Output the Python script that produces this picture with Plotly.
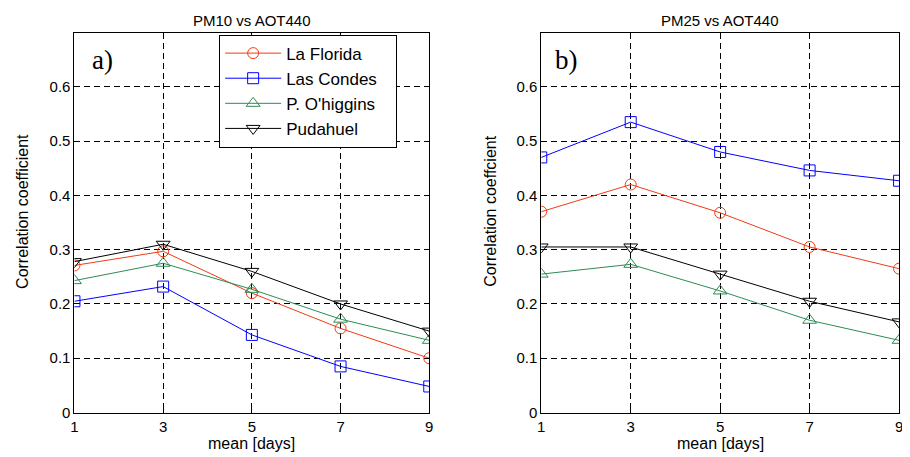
import plotly.graph_objects as go

days = [1, 3, 5, 7, 9]
stations = ["La Florida", "Las Condes", "P. O'higgins", "Pudahuel"]

pm10_la_florida = [0.271, 0.297, 0.220, 0.155, 0.100]
pm10_las_condes = [0.205, 0.232, 0.143, 0.085, 0.048]
pm10_ohiggins = [0.243, 0.275, 0.227, 0.172, 0.133]
pm10_pudahuel = [0.278, 0.310, 0.260, 0.200, 0.150]

pm25_la_florida = [0.370, 0.420, 0.368, 0.305, 0.265]
pm25_las_condes = [0.470, 0.535, 0.480, 0.446, 0.427]
pm25_ohiggins = [0.255, 0.273, 0.224, 0.170, 0.133]
pm25_pudahuel = [0.305, 0.305, 0.255, 0.205, 0.167]

y_ticks = [0, 0.1, 0.2, 0.3, 0.4, 0.5, 0.6]
y_tick_labels = ["0", "0.1", "0.2", "0.3", "0.4", "0.5", "0.6"]

colors = ["#f03c14", "#0000ff", "#2e8b57", "#000000"]
symbols = ["circle-open", "square-open", "triangle-up-open", "triangle-down-open"]
sizes = [11, 11, 12, 12]

fig = go.Figure()

pm10 = [pm10_la_florida, pm10_las_condes, pm10_ohiggins, pm10_pudahuel]
pm25 = [pm25_la_florida, pm25_las_condes, pm25_ohiggins, pm25_pudahuel]

pad = "\u00a0" * 3  # widens the legend box to match the reference

for i, name in enumerate(stations):
    fig.add_trace(go.Scatter(
        x=days, y=pm10[i], name=name + pad, mode="lines+markers",
        line=dict(color=colors[i], width=1),
        marker=dict(symbol=symbols[i], size=sizes[i], color=colors[i], line=dict(width=1, color=colors[i])),
        xaxis="x", yaxis="y", legendgroup=name, showlegend=True))
for i, name in enumerate(stations):
    fig.add_trace(go.Scatter(
        x=days, y=pm25[i], name=name, mode="lines+markers",
        line=dict(color=colors[i], width=1),
        marker=dict(symbol=symbols[i], size=sizes[i], color=colors[i], line=dict(width=1, color=colors[i])),
        xaxis="x2", yaxis="y2", legendgroup=name, showlegend=False))

font = "Liberation Sans, Arial, sans-serif"
serif = "Liberation Serif, Times New Roman, serif"
ax_common = dict(showline=True, mirror="ticks", linecolor="black", linewidth=1,
                 showgrid=True, gridcolor="black", griddash="6px,4px", gridwidth=1,
                 zeroline=False, ticks="inside", ticklen=4, tickcolor="black",
                 tickfont=dict(family=font, size=15, color="black"))

W, H = 902, 457
OX, OY, SY = 8, 7.5, 0.98

def px_x(p):
    return (p - OX) / W

def px_y(p):
    return 1 - ((p - OY) / SY) / H

XL = [px_x(71), px_x(429)]
XR = [px_x(542), px_x(903)]
YD = [px_y(411), px_y(32)]

fig.update_layout(
    width=W, height=H,
    margin=dict(l=0, r=0, t=0, b=0),
    paper_bgcolor="white", plot_bgcolor="white",
    font=dict(family=font, size=15, color="black"),
    xaxis=dict(domain=XL, range=[1, 9], tickvals=days, anchor="y", **ax_common),
    yaxis=dict(domain=YD, range=[0, 0.7], tickvals=y_ticks, ticktext=y_tick_labels, anchor="x", **ax_common),
    xaxis2=dict(domain=XR, range=[1, 9], tickvals=days, anchor="y2", **ax_common),
    yaxis2=dict(domain=YD, range=[0, 0.7], tickvals=y_ticks, ticktext=y_tick_labels, anchor="x2", **ax_common),
    legend=dict(x=px_x(217), y=px_y(34), xanchor="left", yanchor="top",
                bgcolor="white", bordercolor="black", borderwidth=1,
                font=dict(family=font, size=17, color="black"),
                traceorder="grouped", tracegroupgap=0, itemwidth=56),
    showlegend=True,
)

def ann(text, x, y, size, fam=font, angle=0, xanchor="center"):
    fig.add_annotation(text=text, xref="paper", yref="paper", x=x, y=y, xanchor=xanchor,
                       yanchor="middle", showarrow=False, textangle=angle,
                       font=dict(family=fam, size=size, color="black"))

ann("PM10 vs AOT440", sum(XL) / 2, px_y(20), 15)
ann("PM25 vs AOT440", sum(XR) / 2, px_y(20), 15)
ann("mean [days]", sum(XL) / 2, px_y(442), 16)
ann("mean [days]", sum(XR) / 2, px_y(442), 16)
ann("Correlation coefficient", px_x(18), px_y(210), 16, angle=-90)
ann("Correlation coeffcient", px_x(490), px_y(210), 16, angle=-90)
ann("a)", px_x(87), px_y(59), 27, fam=serif, xanchor="left")
ann("b)", px_x(554), px_y(59), 27, fam=serif, xanchor="left")

fig.write_html("out.html")
